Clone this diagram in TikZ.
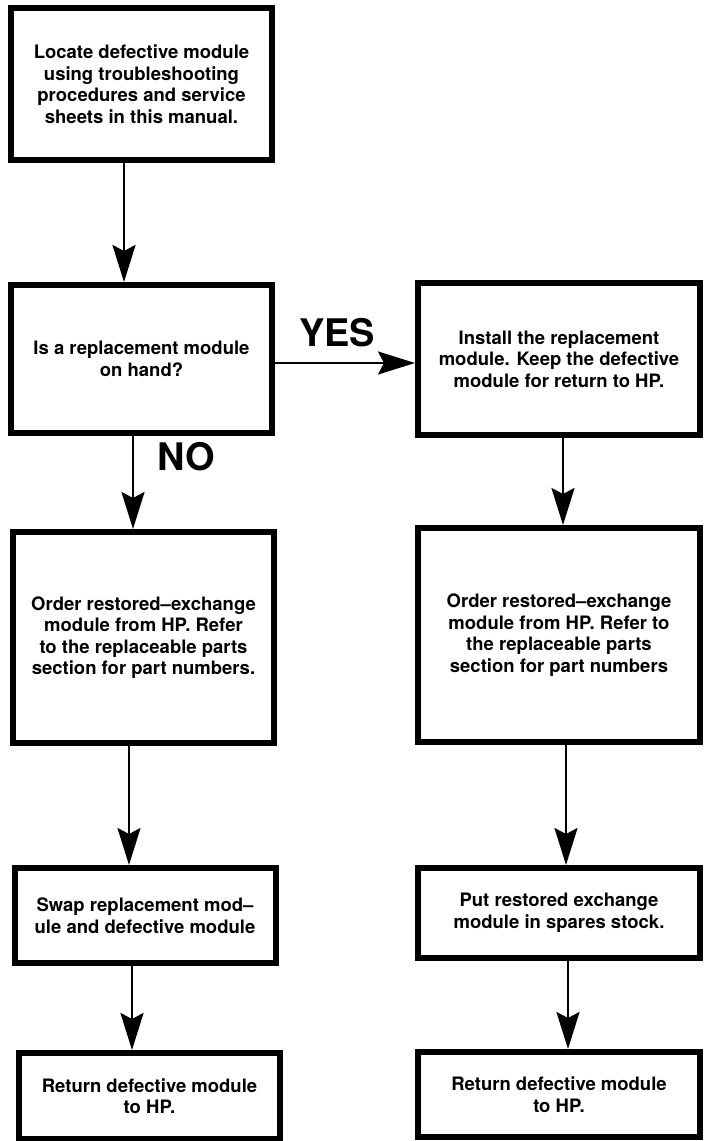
\documentclass[tikz,border=0pt]{standalone}
\usepackage{fontspec}
\setmainfont{TeX Gyre Heros}
\usetikzlibrary{arrows.meta, positioning}

\begin{document}
\begin{tikzpicture}[
    x=0.5pt, y=-0.5pt,
    box/.style={
      draw,
      line width=3pt,
      align=center,
      font=\fontsize{9.25}{10.75}\selectfont\bfseries,
      inner sep=2pt
    },
    lbox/.style={box, minimum width=130.5pt},
    rbox/.style={box, minimum width=141pt},
    arr/.style={
      line width=1.3pt,
      -{Stealth[length=18.5pt, width=11.5pt, inset=3pt]}
    },
    lbl/.style={
      font=\fontsize{19}{19}\selectfont\bfseries,
      inner sep=0pt
    }
]
  \useasboundingbox (0,0) rectangle (704,1141);

  % Left column
  \node[lbox, minimum height=76pt] (loc) at (141.5,84) {Locate defective module\\using troubleshooting\\procedures and service\\sheets in this manual.};
  \node[lbox, minimum height=74pt, below=59.5pt of loc] (ask) {Is a replacement module\\on hand?};
  \node[lbox, minimum height=105.5pt, below=46.5pt of ask, xshift=1pt] (ordL) {Order restored--exchange\\module from HP. Refer\\to the replaceable parts\\section for part numbers.};
  \node[lbox, minimum height=47.5pt, below=59.5pt of ordL, xshift=0.75pt] (swap) {Swap replacement mod--\\ule and defective module};
  \node[lbox, minimum height=43pt, below=42pt of swap, xshift=2.25pt] (retL) {Return defective module\\to HP.};

  % Right column
  \node[rbox, minimum height=76pt, right=70pt of ask] (inst) {Install the replacement\\module. Keep the defective\\module for return to HP.};
  \node[rbox, minimum height=107pt, below=43.5pt of inst] (ordR) {Order restored--exchange\\module from HP. Refer to\\the replaceable parts\\section for part numbers};
  \node[rbox, minimum height=45pt, below=60pt of ordR] (putR) {Put restored exchange\\module in spares stock.};
  \node[rbox, minimum height=42.5pt, below=44pt of putR] (retR) {Return defective module\\to HP.};

  % Connecting arrows
  \draw[arr] ([xshift=-8.75pt]loc.south) -- ([xshift=-8.75pt]loc.south |- ask.north);
  \draw[arr] ([yshift=-2pt]ask.east) -- node[lbl, pos=0.443, above=7.5pt] (yes) {YES} ([yshift=-2pt]ask.east -| inst.west);
  \draw[arr] ([xshift=-4.25pt]ask.south) -- node[lbl, pos=0.226, right=11.5pt] (no) {NO} ([xshift=-4.25pt]ask.south |- ordL.north);
  \draw[arr] ([xshift=-7.25pt]ordL.south) -- ([xshift=-7.25pt]ordL.south |- swap.north);
  \draw[arr] ([xshift=-6.5pt]swap.south) -- ([xshift=-6.5pt]swap.south |- retL.north);
  \draw[arr] ([xshift=2pt]inst.south) -- ([xshift=2pt]inst.south |- ordR.north);
  \draw[arr] ([xshift=3.5pt]ordR.south) -- ([xshift=3.5pt]ordR.south |- putR.north);
  \draw[arr] ([xshift=4.5pt]putR.south) -- ([xshift=4.5pt]putR.south |- retR.north);
\end{tikzpicture}
\end{document}
